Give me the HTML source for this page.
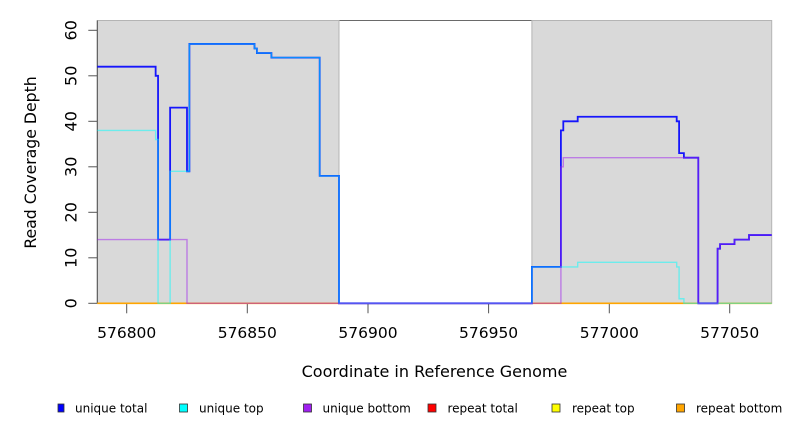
<!DOCTYPE html>
<html>
<head>
<meta charset="utf-8">
<style>
html,body{margin:0;padding:0;background:#fff;}
svg{display:block;}
text{font-family:"DejaVu Sans","Liberation Sans",sans-serif;fill:#000;}
</style>
</head>
<body>
<svg width="792" height="432" viewBox="0 0 792 432" xmlns="http://www.w3.org/2000/svg">
  <rect x="0" y="0" width="792" height="432" fill="#fff"/>
  <!-- plot box top line (visible in white region) -->
  <line x1="97.3" y1="20.5" x2="771.7" y2="20.5" stroke="#6a6a6a" stroke-width="1"/>
  <!-- gray regions -->
  <rect x="97.3" y="20.5" width="241.7" height="282.8" fill="#d9d9d9" stroke="#b4b4b4" stroke-width="1"/>
  <rect x="531.9" y="20.5" width="239.8" height="282.8" fill="#d9d9d9" stroke="#b4b4b4" stroke-width="1"/>
  <!-- left axis line -->
  <line x1="97.3" y1="20.5" x2="97.3" y2="303.3" stroke="#4d4d4d" stroke-width="1"/>

  <!-- y ticks -->
  <g stroke="#555" stroke-width="1">
    <line x1="88.3" y1="303.3" x2="97.3" y2="303.3"/>
    <line x1="88.3" y1="257.8" x2="97.3" y2="257.8"/>
    <line x1="88.3" y1="212.3" x2="97.3" y2="212.3"/>
    <line x1="88.3" y1="166.8" x2="97.3" y2="166.8"/>
    <line x1="88.3" y1="121.3" x2="97.3" y2="121.3"/>
    <line x1="88.3" y1="75.8" x2="97.3" y2="75.8"/>
    <line x1="88.3" y1="30.3" x2="97.3" y2="30.3"/>
  </g>
  <!-- x ticks -->
  <g stroke="#555" stroke-width="1">
    <line x1="126.7" y1="303.3" x2="126.7" y2="313.3"/>
    <line x1="247.3" y1="303.3" x2="247.3" y2="313.3"/>
    <line x1="368" y1="303.3" x2="368" y2="313.3"/>
    <line x1="488.6" y1="303.3" x2="488.6" y2="313.3"/>
    <line x1="609.3" y1="303.3" x2="609.3" y2="313.3"/>
    <line x1="729.7" y1="303.3" x2="729.7" y2="313.3"/>
  </g>

  <!-- y tick labels (rotated) -->
  <g font-size="16" text-anchor="middle">
    <text transform="translate(76.5,303.3) rotate(-90)">0</text>
    <text transform="translate(76.5,257.8) rotate(-90)">10</text>
    <text transform="translate(76.5,212.3) rotate(-90)">20</text>
    <text transform="translate(76.5,166.8) rotate(-90)">30</text>
    <text transform="translate(76.5,121.3) rotate(-90)">40</text>
    <text transform="translate(76.5,75.8) rotate(-90)">50</text>
    <text transform="translate(76.5,30.3) rotate(-90)">60</text>
  </g>
  <!-- x tick labels -->
  <g font-size="15.5" text-anchor="middle">
    <text x="126.7" y="338">576800</text>
    <text x="247.3" y="338">576850</text>
    <text x="368" y="338">576900</text>
    <text x="488.6" y="338">576950</text>
    <text x="609.3" y="338">577000</text>
    <text x="729.7" y="338">577050</text>
  </g>
  <!-- axis titles -->
  <text x="434.5" y="377" font-size="16" text-anchor="middle">Coordinate in Reference Genome</text>
  <text transform="translate(36,162.5) rotate(-90)" font-size="15.7" text-anchor="middle">Read Coverage Depth</text>

  <!-- repeat lines (all zero) -->
  <line x1="97.3" y1="303.3" x2="771.7" y2="303.3" stroke="#ffa500" stroke-width="1.6"/>

  <!-- unique total -->
  <path d="M97.3,66.7 H155.64 V75.8 H158.06 V239.6 H170.12 V107.65 H187.0 V171.35 H189.4 V43.95 H254.5 V48.5 H256.9 V53.05 H271.4 V57.6 H319.7 V175.9 H339.0 V303.3 H531.9 V266.9 H560.9 V130.4 H563.3 V121.3 H577.7 V116.75 H676.7 V121.3 H679.1 V153.15 H683.9 V157.7 H698.3 V303.3 H717.6 V248.7 H720.05 V244.15 H734.5 V239.6 H749.0 V235.05 H771.7"
        fill="none" stroke="#0000ff" stroke-width="1.8" stroke-opacity="0.9"/>
  <!-- unique top -->
  <path d="M97.3,130.4 H155.64 V139.5 H158.06 V303.3 H170.12 V171.35 H189.4 V43.95 H254.5 V48.5 H256.9 V53.05 H271.4 V57.6 H319.7 V175.9 H339.0 V303.3 H531.9 V266.9 H577.7 V262.35 H676.7 V266.9 H679.1 V298.75 H683.9 V303.3 H771.7"
        fill="none" stroke="#00ffff" stroke-width="1.4" stroke-opacity="0.5"/>
  <!-- unique bottom -->
  <path d="M97.3,239.6 H187.0 V303.3 H560.9 V166.8 H563.3 V157.7 H698.3 V303.3 H717.6 V248.7 H720.05 V244.15 H734.5 V239.6 H749.0 V235.05 H771.7"
        fill="none" stroke="#a020f0" stroke-width="1.4" stroke-opacity="0.5"/>

  <!-- legend -->
  <g stroke="#333" stroke-width="0.8">
    <rect x="58" y="404" width="6" height="8" fill="#0000ff"/>
    <rect x="179.5" y="404" width="8" height="8" fill="#00ffff"/>
    <rect x="303.5" y="404" width="8" height="8" fill="#a020f0"/>
    <rect x="428" y="404" width="8" height="8" fill="#ff0000"/>
    <rect x="552" y="404" width="8" height="8" fill="#ffff00"/>
    <rect x="676.5" y="404" width="8" height="8" fill="#ffa500"/>
  </g>
  <g font-size="12">
    <text x="75" y="412.5">unique total</text>
    <text x="199" y="412.5">unique top</text>
    <text x="322.5" y="412.5">unique bottom</text>
    <text x="447.5" y="412.5">repeat total</text>
    <text x="572" y="412.5">repeat top</text>
    <text x="696" y="412.5">repeat bottom</text>
  </g>
</svg>
</body>
</html>
